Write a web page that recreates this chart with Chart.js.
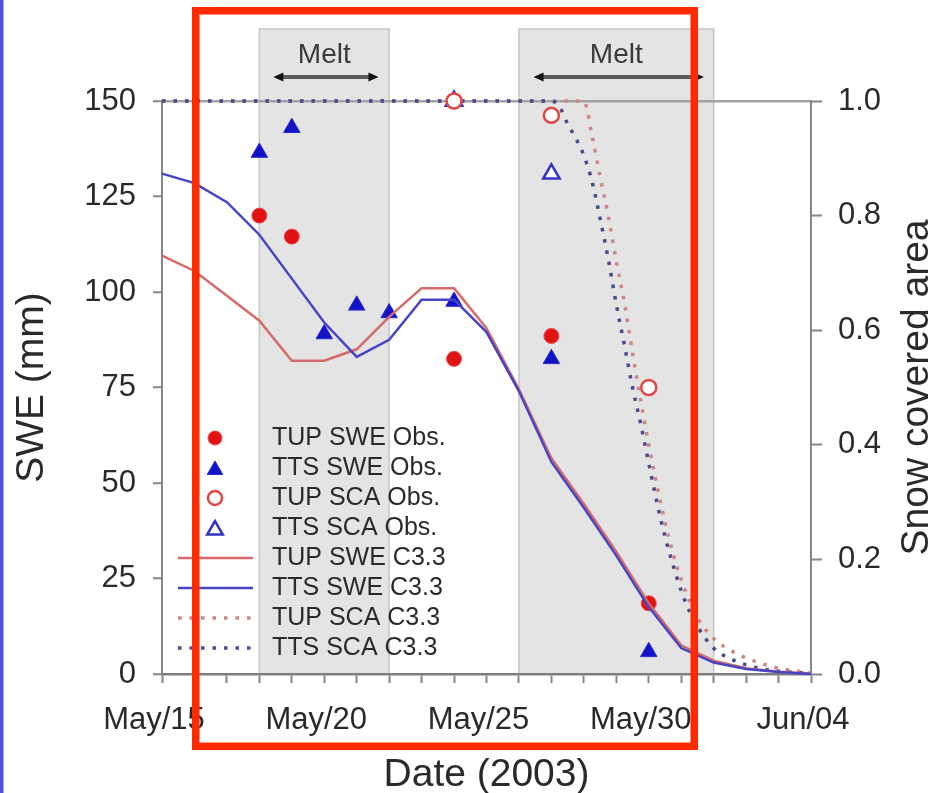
<!DOCTYPE html>
<html>
<head>
<meta charset="utf-8">
<script src="https://cdn.jsdelivr.net/npm/chart.js@4.4.1/dist/chart.umd.min.js"></script>
<style>
html,body{margin:0;padding:0;background:#fff;}
canvas{display:block;}
</style>
</head>
<body>
<canvas id="c" width="930" height="793"></canvas>
<script>
// ---------------- data (days since May 15, 2003) ----------------
const xTickLabels = ['May/15', 'May/20', 'May/25', 'May/30', 'Jun/04'];
const meltPeriods = [[3, 7], [11, 17]];            // May 18-22, May 26-Jun 1
const meltArrows  = [[3.43, 6.67], [11.45, 16.7]];

const simDays   = [0,1,2,3,4,5,6,7,8,9,10,11,12,13,14,15,16,17,18,19,20];
const tupSweSim = [109.5,105.5,99,92.5,82,82,85,93.5,101,101,90.5,74.5,56.5,44.5,32,18.5,7.5,3.5,1.5,0.6,0.1];
const ttsSweSim = [131,128.5,123.5,115,103.5,92,83,87.5,98,98,89.5,74,55.5,43.5,31,17.5,6.8,3,1.3,0.5,0];

const scaDays   = [0,11.75,12,12.25,12.5,12.75,13,13.25,13.5,13.75,14,14.25,14.5,14.75,15,15.25,15.5,15.75,16,16.25,16.5,17,17.5,18,18.5,19,20];
const tupScaSim = [1,1,1,1,1,1,1,0.94,0.868,0.80,0.72,0.648,0.56,0.478,0.40,0.33,0.265,0.21,0.165,0.128,0.098,0.062,0.042,0.028,0.018,0.01,0.002];
const ttsScaSim = [1,1,1,0.99,0.96,0.935,0.905,0.86,0.795,0.725,0.645,0.574,0.50,0.437,0.368,0.30,0.24,0.19,0.145,0.11,0.083,0.045,0.027,0.016,0.009,0.005,0.001];

const tupSweObsDays = [3,4,9,12,15];
const tupSweObs     = [120,114.5,82.5,88.5,18.5];
const ttsSweObsDays = [3,4,5,6,7,9,12,15];
const ttsSweObs     = [136.5,143,89,96.5,94.5,97.5,82.5,5.8];
const tupScaObsDays = [9,12,15];
const tupScaObs     = [1.0,0.975,0.50];
const ttsScaObsDays = [9,12];
const ttsScaObs     = [1.0,0.873];

// ---------------- helpers ----------------
const FONT = "'Liberation Sans', Arial, Helvetica, sans-serif";
const TXT = '#2a2a2a';
const AX = '#878787';
const pts = (xs, ys) => xs.map((x, i) => ({x: x, y: ys[i]}));

Chart.defaults.font.family = FONT;
Chart.defaults.color = TXT;

function drawMarker(ctx, style, x, y, r, fill, stroke, lw) {
  ctx.beginPath();
  if (style === 'circle') {
    ctx.arc(x, y, r, 0, Math.PI * 2);
  } else {
    ctx.moveTo(x, y - r);
    ctx.lineTo(x + 0.8660254 * r, y + r / 2);
    ctx.lineTo(x - 0.8660254 * r, y + r / 2);
    ctx.closePath();
  }
  if (fill) { ctx.fillStyle = fill; ctx.fill(); }
  if (lw) { ctx.strokeStyle = stroke; ctx.lineWidth = lw; ctx.stroke(); }
}

function arrowHead(ctx, x, y, dir) {
  ctx.beginPath();
  ctx.moveTo(x, y);
  ctx.lineTo(x - dir * 10, y - 4.5);
  ctx.lineTo(x - dir * 10, y + 4.5);
  ctx.closePath();
  ctx.fill();
}

const decor = {
  id: 'decor',
  beforeDraw(chart) {
    const {ctx, chartArea: a, scales: {x}} = chart;
    ctx.save();
    meltPeriods.forEach(([s, e]) => {
      const x0 = x.getPixelForValue(s), x1 = x.getPixelForValue(e);
      ctx.fillStyle = '#e4e4e4';
      ctx.fillRect(x0, 29, x1 - x0, a.bottom - 29);
      ctx.strokeStyle = '#c6c6c6';
      ctx.lineWidth = 1.5;
      ctx.strokeRect(x0, 29, x1 - x0, a.bottom - 29);
    });
    ctx.restore();
  },
  afterDraw(chart) {
    const {ctx, chartArea: a, scales: {x}} = chart;
    ctx.save();
    // Melt labels + arrows
    ctx.font = '28px ' + FONT;
    ctx.fillStyle = '#3a3a3a';
    ctx.textAlign = 'center';
    ctx.textBaseline = 'middle';
    meltPeriods.forEach(([s, e]) => {
      ctx.fillText('Melt', (x.getPixelForValue(s) + x.getPixelForValue(e)) / 2, 55);
    });
    meltArrows.forEach(([s, e]) => {
      const x0 = x.getPixelForValue(s), x1 = x.getPixelForValue(e);
      ctx.strokeStyle = '#5c5c5c';
      ctx.lineWidth = 4;
      ctx.beginPath();
      ctx.moveTo(x0 + 6, 77);
      ctx.lineTo(x1 - 6, 77);
      ctx.stroke();
      ctx.fillStyle = '#111';
      arrowHead(ctx, x0, 77, -1);
      arrowHead(ctx, x1, 77, 1);
    });

    // Legend
    ctx.font = '25px ' + FONT;
    ctx.textAlign = 'left';
    ctx.textBaseline = 'middle';
    chart.data.datasets.forEach((ds, i) => {
      const y = 438 + 30 * i;
      if (ds.showLine === false) {
        const yy = ds.pointStyle === 'triangle' ? y + 2 : y;
        drawMarker(ctx, ds.pointStyle, 215, yy, ds.pointRadius - 0.5,
          ds.pointBackgroundColor, ds.pointBorderColor, ds.pointBorderWidth);
      } else {
        ctx.strokeStyle = ds.borderColor;
        ctx.lineWidth = ds.borderWidth;
        ctx.setLineDash(ds.borderDash || []);
        ctx.beginPath();
        ctx.moveTo(178, y);
        ctx.lineTo(253, y);
        ctx.stroke();
        ctx.setLineDash([]);
      }
      ctx.fillStyle = TXT;
      ctx.fillText(ds.label, 272, y);
    });

    // Right axis title (reads bottom to top)
    ctx.save();
    ctx.translate(917, (a.top + a.bottom) / 2);
    ctx.rotate(-Math.PI / 2);
    ctx.font = '39px ' + FONT;
    ctx.fillStyle = TXT;
    ctx.textAlign = 'center';
    ctx.textBaseline = 'middle';
    ctx.fillText('Snow covered area', 0, 0);
    ctx.restore();

    // blue strip at left edge
    ctx.fillStyle = '#4f4fe0';
    ctx.fillRect(0, 0, 3.5, chart.height);

    // red highlight frame
    ctx.strokeStyle = '#ff2a00';
    ctx.lineWidth = 7.5;
    ctx.strokeRect(195.75, 10.75, 498.5, 735.5);
    ctx.restore();
  }
};

const obsCommon = {showLine: false, clip: false, order: 2, pointHoverRadius: 0};
const lineCommon = {pointRadius: 0, pointHoverRadius: 0, clip: false, fill: false};

new Chart(document.getElementById('c'), {
  type: 'line',
  data: {
    datasets: [
      Object.assign({label: 'TUP SWE Obs.', data: pts(tupSweObsDays, tupSweObs), yAxisID: 'y',
        pointStyle: 'circle', pointRadius: 7.5, pointBackgroundColor: '#e01212',
        pointBorderColor: '#ea4a4a', pointBorderWidth: 1}, obsCommon),
      Object.assign({label: 'TTS SWE Obs.', data: pts(ttsSweObsDays, ttsSweObs), yAxisID: 'y',
        pointStyle: 'triangle', pointRadius: 9.5, pointBackgroundColor: '#1212c6',
        pointBorderColor: '#2a2acc', pointBorderWidth: 1}, obsCommon),
      Object.assign({label: 'TUP SCA Obs.', data: pts(tupScaObsDays, tupScaObs), yAxisID: 'y1',
        pointStyle: 'circle', pointRadius: 7.5, pointBackgroundColor: '#ffffff',
        pointBorderColor: '#e04646', pointBorderWidth: 2.5}, obsCommon),
      Object.assign({label: 'TTS SCA Obs.', data: pts(ttsScaObsDays, ttsScaObs), yAxisID: 'y1',
        pointStyle: 'triangle', pointRadius: 9.5, pointBackgroundColor: '#ffffff',
        pointBorderColor: '#3434c2', pointBorderWidth: 2.5}, obsCommon),
      Object.assign({label: 'TUP SWE C3.3', data: pts(simDays, tupSweSim), yAxisID: 'y',
        borderColor: '#d66a6a', borderWidth: 2.5, tension: 0, order: 1.5}, lineCommon),
      Object.assign({label: 'TTS SWE C3.3', data: pts(simDays, ttsSweSim), yAxisID: 'y',
        borderColor: '#4646c4', borderWidth: 2.5, tension: 0, order: 1}, lineCommon),
      Object.assign({label: 'TUP SCA C3.3', data: pts(scaDays, tupScaSim), yAxisID: 'y1',
        borderColor: '#d08686', borderWidth: 3.5, borderDash: [3.5, 8],
        cubicInterpolationMode: 'monotone', order: 4}, lineCommon),
      Object.assign({label: 'TTS SCA C3.3', data: pts(scaDays, ttsScaSim), yAxisID: 'y1',
        borderColor: '#4a4a8e', borderWidth: 3.5, borderDash: [3.5, 8],
        cubicInterpolationMode: 'monotone', order: 3}, lineCommon)
    ]
  },
  options: {
    responsive: false,
    devicePixelRatio: 1,
    animation: false,
    events: [],
    layout: {padding: {top: 101, left: 0, right: 0, bottom: 0}},
    plugins: {legend: {display: false}, tooltip: {enabled: false}},
    scales: {
      x: {
        type: 'linear', position: 'bottom', min: 0, max: 20,
        ticks: {
          stepSize: 1, autoSkip: false, maxRotation: 0, minRotation: 0,
          padding: 22, labelOffset: -8, color: TXT,
          font: {size: 31, lineHeight: 1},
          callback: (v) => (v % 5 === 0 ? xTickLabels[v / 5] : '')
        },
        grid: {drawOnChartArea: false, drawTicks: true, tickLength: 9, tickColor: AX, tickWidth: 2},
        border: {display: true, color: '#7e7e7e', width: 2.5},
        title: {display: true, text: 'Date (2003)', color: TXT,
          font: {size: 39, lineHeight: 1}, padding: {top: 0, bottom: -1.5}},
        afterFit: (s) => { s.height = 119; }
      },
      y: {
        position: 'left', min: 0, max: 150,
        ticks: {stepSize: 25, padding: 17, color: TXT, font: {size: 31, lineHeight: 1}},
        grid: {
          drawOnChartArea: true, drawTicks: true, tickLength: 9, tickColor: AX, tickWidth: 2,
          lineWidth: 2.5,
          color: (c) => (c.tick && c.tick.value === 150 ? '#a2a2a2' : 'rgba(0,0,0,0)')
        },
        border: {display: true, color: AX, width: 2},
        title: {display: true, text: 'SWE (mm)', color: TXT,
          font: {size: 39, lineHeight: 1}, padding: {top: 12.5, bottom: 0}},
        afterFit: (s) => { s.width = 162; }
      },
      y1: {
        position: 'right', min: 0, max: 1,
        ticks: {stepSize: 0.2, padding: 16, color: TXT, font: {size: 31, lineHeight: 1},
          callback: (v) => Number(v).toFixed(1)},
        grid: {drawOnChartArea: false, drawTicks: true, tickLength: 11, tickColor: AX, tickWidth: 2},
        border: {display: true, color: AX, width: 2},
        afterFit: (s) => { s.width = 119; }
      }
    }
  },
  plugins: [decor]
});
</script>
</body>
</html>
